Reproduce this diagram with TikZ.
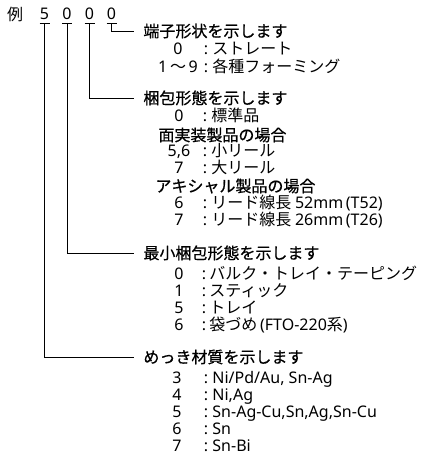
\documentclass[tikz,border=0pt]{standalone}
\usepackage{fontspec}
\setmainfont{Noto Sans CJK JP}
\newfontfamily\headfont[FakeBold=0.6]{Noto Sans CJK JP}
\newfontfamily\lat{Noto Sans}
\usetikzlibrary{positioning}

\begin{document}
\begin{tikzpicture}[x=1pt, y=-1pt, line width=0.9pt,
		every node/.style={inner sep=0pt, text height=13pt, text depth=1pt,
			font=\fontsize{16}{17}\selectfont},
		head/.style={anchor=base west, font=\fontsize{16}{17}\selectfont\headfont},
		num/.style={anchor=base, font=\fontsize{16}{17}\selectfont\lat},
		txt/.style={anchor=base west}]
		\useasboundingbox (0,0) rectangle (427,473);
		% code number
		\node[anchor=base] (ex) at (15,21) {例};
		\foreach \d/\x [count=\i] in {5/44.5,0/67,0/89.5,0/111.5} {
			\node[num] (n\i) at (\x,20) {\d};
			\draw ([xshift=-5pt,yshift=-3.5pt]n\i.base) -- ([xshift=5pt,yshift=-3.5pt]n\i.base);
		}
		% headings
		\node[head] (h1) at (143,37) {端子形状を示します};
		\node[head] (h2) at (143,104) {梱包形態を示します};
		\node[head] (h3) at (143,259) {最小梱包形態を示します};
		\node[head] (h4) at (143,363) {めっき材質を示します};
		\draw ([yshift=-3.5pt]n4.base) |- ([xshift=-9pt]h1.west);
		\draw ([yshift=-3.5pt]n3.base) |- ([xshift=-9pt]h2.west);
		\draw ([yshift=-3.5pt]n2.base) |- ([xshift=-9pt]h3.west);
		\draw ([yshift=-3.5pt]n1.base) |- ([xshift=-9pt]h4.west);
		% terminal form
		\foreach \y/\v/\t [count=\i] in {55/0/ストレート, 73/{1\,{\rmfamily〜}\,9}/各種フォーミング} {
			\node[num] (a\i) at (178,\y) {\v};
			\node[num] (ac\i) at (206,\y) {:};
			\node[txt] (at\i) at (212,\y) {\t};
		}
		% packing
		\foreach \y/\v/\t [count=\i] in {122/0/標準品, 157/{5,6}/小リール, 173/7/大リール,
				208/6/{リード線長 {\lat 52mm\,(T52)}}, 225/7/{リード線長 {\lat 26mm\,(T26)}}} {
			\node[num] (b\i) at (179,\y) {\v};
			\node[num] (bc\i) at (205,\y) {:};
			\node[txt] (bt\i) at (211,\y) {\t};
		}
		\node[head] (b-smd) at (158,141) {面実装製品の場合};
		\node[head] (b-ax) at (155,192) {アキシャル製品の場合};
		% minimum packing
		\foreach \y/\v/\t [count=\i] in {279/0/バルク・トレイ・テーピング, 296/1/スティック,
				313/5/トレイ, 330/6/{袋づめ\,{\lat(FTO-220}系{\lat)}}} {
			\node[num] (c\i) at (179,\y) {\v};
			\node[num] (cc\i) at (204,\y) {:};
			\node[txt] (ct\i) at (209,\y) {\t};
		}
		% plating
		\foreach \y/\v/\t [count=\i] in {383/3/{Ni/Pd/Au, Sn-Ag}, 400/4/{Ni,Ag},
				417/5/{Sn-Ag-Cu,Sn,Ag,Sn-Cu}, 434/6/Sn, 451/7/Sn-Bi} {
			\node[num] (d\i) at (177,\y) {\v};
			\node[num] (dc\i) at (206,\y) {:};
			\node[txt, font=\fontsize{16}{17}\selectfont\lat] (dt\i) at (212,\y) {\t};
		}
	\end{tikzpicture}
\end{document}
